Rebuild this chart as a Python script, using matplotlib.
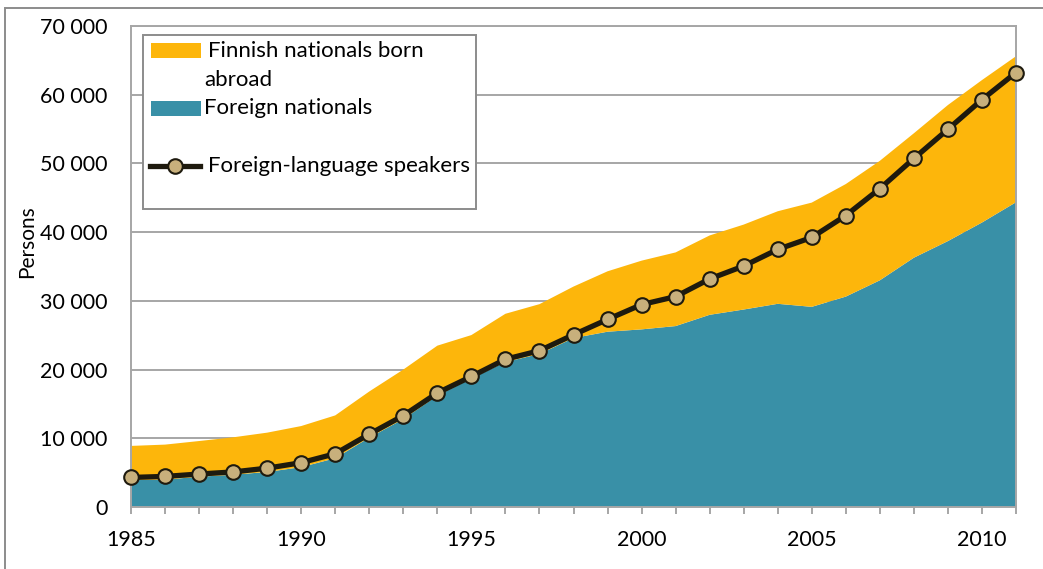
import matplotlib
matplotlib.use("Agg")
import matplotlib.pyplot as plt
from matplotlib.patches import Rectangle
from matplotlib.lines import Line2D
from matplotlib.ticker import FuncFormatter, MultipleLocator

years = list(range(1985, 2012))
foreign_nationals = [3900, 4000, 4400, 4700, 5100, 5800, 7100, 10100, 12800, 16200,
                     18700, 21100, 22270, 24590, 25510, 25850, 26330, 27970, 28740,
                     29570, 29130, 30620, 32990, 36280, 38700, 41400, 44350]
finnish_born_abroad = [4990, 5080, 5200, 5440, 5720, 5980, 6230, 6710, 7200, 7280,
                       6320, 7020, 7250, 7490, 8790, 10000, 10720, 11550, 12360,
                       13470, 15170, 16380, 17390, 18110, 19800, 20730, 21250]
foreign_language_speakers = [4300, 4450, 4800, 5100, 5650, 6450, 7750, 10600, 13300,
                             16600, 19000, 21500, 22750, 25070, 27300, 29460, 30620,
                             33190, 35070, 37490, 39230, 42420, 46330, 50720, 54970,
                             59280, 63230]
labels = ["Finnish nationals born\nabroad", "Foreign nationals", "Foreign-language speakers"]

ORANGE = "#FDB60B"
TEAL = "#3990A7"
LINE = "#1E1A0E"
MARK = "#C8B07C"
GRID = "#A6A6A6"

W, H = 1043, 569
plt.rcParams['font.family'] = ['Lato', 'DejaVu Sans']
fig = plt.figure(figsize=(W / 100, H / 100), dpi=100)

def fx(x):
    return x / W

def fy(y):
    return 1 - y / H

L, R, T, B = 131, 1016, 26, 507
ax = fig.add_axes([fx(L), fy(B), fx(R) - fx(L), fy(T) - fy(B)])

ax.stackplot(years, foreign_nationals, finnish_born_abroad,
             colors=[TEAL, ORANGE], linewidth=0, zorder=2)
ax.plot(years, foreign_language_speakers, color=LINE, lw=3.8, marker='o',
        markersize=10.5, markerfacecolor=MARK, markeredgecolor=LINE,
        markeredgewidth=1.5, zorder=4, clip_on=False)

ax.set_xlim(1985, 2011)
ax.set_ylim(0, 70000)
ax.yaxis.set_major_locator(MultipleLocator(10000))
ax.yaxis.set_major_formatter(FuncFormatter(lambda v, p: f"{int(v):,}".replace(",", " ")))
ax.xaxis.set_major_locator(MultipleLocator(5))
ax.xaxis.set_minor_locator(MultipleLocator(1))
ax.grid(axis='y', color=GRID, lw=1.4, zorder=1)
ax.set_axisbelow(True)
for s in ax.spines.values():
    s.set_color(GRID)
    s.set_linewidth(1.4)
    s.set_zorder(3)
ax.tick_params(axis='y', length=0, pad=17, labelsize=15.5, colors='black')
ax.tick_params(axis='x', which='both', direction='inout', length=9.4, width=1.4,
               color=GRID, pad=12, labelsize=15.5)
ax.tick_params(axis='x', which='major', labelcolor='black')

fig.text(fx(27), fy(242), "Persons", rotation=90, ha='center', va='center', fontsize=15)

# outer frame
fig.add_artist(Rectangle((fx(5), fy(H + 20)), fx(W + 20) - fx(5), fy(8) - fy(H + 20),
                         transform=fig.transFigure, fill=False, edgecolor='#8C8C8C',
                         lw=1.4))

# legend
fig.add_artist(Rectangle((fx(143), fy(209)), fx(476) - fx(143), fy(35) - fy(209),
                         transform=fig.transFigure, facecolor='white', edgecolor='#8C8C8C',
                         lw=1.4, zorder=5))
fig.add_artist(Rectangle((fx(151), fy(58)), fx(201) - fx(151), fy(43) - fy(58),
                         transform=fig.transFigure, facecolor=ORANGE, edgecolor='none',
                         zorder=6))
fig.add_artist(Rectangle((fx(151), fy(116)), fx(201) - fx(151), fy(101) - fy(116),
                         transform=fig.transFigure, facecolor=TEAL, edgecolor='none',
                         zorder=6))
fig.add_artist(Line2D([fx(150), fx(200)], [fy(166), fy(166)], transform=fig.transFigure,
                      color=LINE, lw=3.8, zorder=6))
fig.add_artist(Line2D([fx(175)], [fy(166)], transform=fig.transFigure, marker='o',
                      markersize=10.5, markerfacecolor=MARK, markeredgecolor=LINE,
                      markeredgewidth=1.5, zorder=7))
fig.text(fx(208), fy(51), "Finnish nationals born", ha='left', va='center', fontsize=16, zorder=8)
fig.text(fx(204), fy(80), "abroad", ha='left', va='center', fontsize=16, zorder=8)
fig.text(fx(204), fy(108), labels[1], ha='left', va='center', fontsize=16, zorder=8)
fig.text(fx(208), fy(166), labels[2], ha='left', va='center', fontsize=16, zorder=8,
         fontstretch='expanded')

fig.savefig("out.png", dpi=100)
